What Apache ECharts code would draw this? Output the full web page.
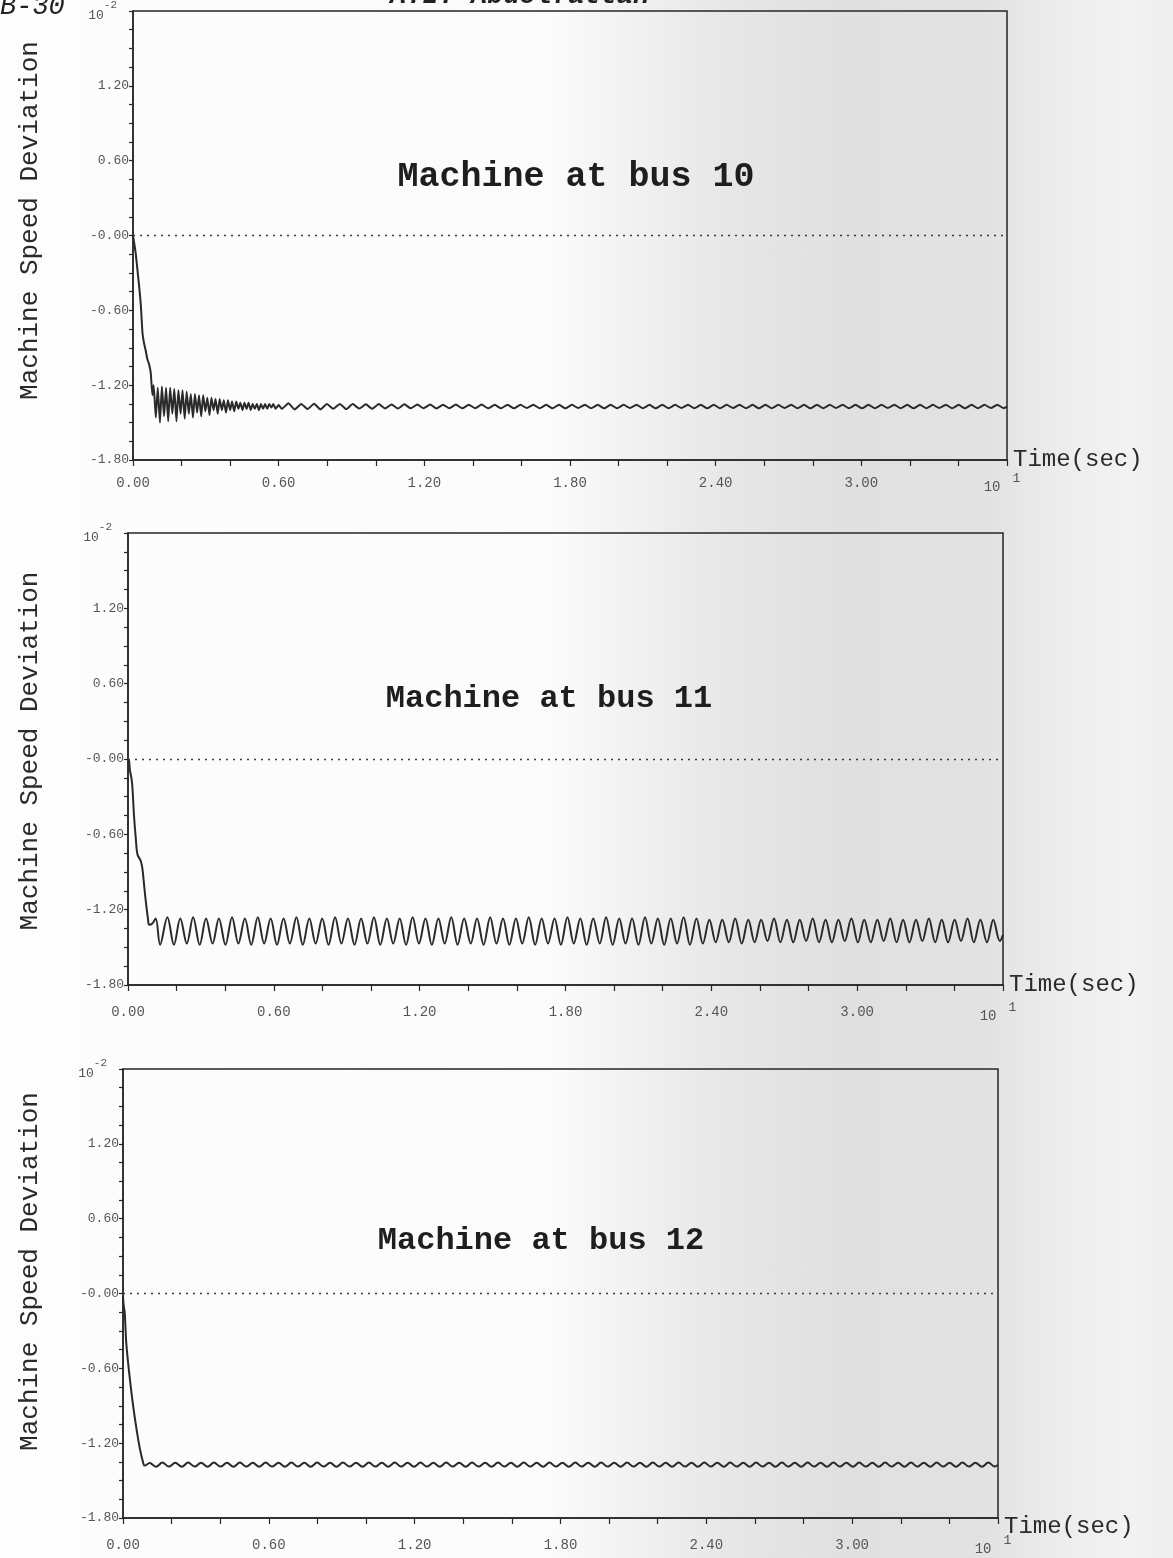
<!DOCTYPE html>
<html>
<head>
<meta charset="utf-8">
<script src="https://cdn.jsdelivr.net/npm/echarts@6/dist/echarts.min.js"></script>
<style>
html,body{margin:0;padding:0;}
body{width:1173px;height:1558px;overflow:hidden;
background:linear-gradient(90deg,#fdfdfd 0%,#fbfbfb 47%,#f1f1f1 54%,#e7e7e7 62%,#e0e0e0 72%,#e2e2e2 84%,#ececec 90%,#f2f2f2 96%,#eeeeee 100%);}
#c{width:1173px;height:1558px;}
</style>
</head>
<body>
<div id="c"></div>
<script>
// ---------- data ----------
const chartTitles = ['Machine at bus 10', 'Machine at bus 11', 'Machine at bus 12'];
const xTicks = [0, 0.6, 1.2, 1.8, 2.4, 3.0, 3.6];      // 3.6 is drawn as "10^1"
const yTicks = [-1.8, -1.2, -0.6, 0, 0.6, 1.2, 1.8];   // 1.8 is drawn as "10^-2"

// instants of the steady swing (peak, trough, peak, ...) in seconds
const swingTimes = [
 0.162,0.189,0.215,0.242,0.268,0.295,0.321,0.348,0.374,0.401,
 0.428,0.454,0.481,0.507,0.534,0.560,0.587,0.613,0.640,0.666,
 0.693,0.719,0.746,0.772,0.799,0.825,0.852,0.878,0.905,0.932,
 0.959,0.985,1.012,1.038,1.065,1.091,1.118,1.144,1.171,1.197,
 1.224,1.250,1.277,1.303,1.330,1.356,1.383,1.410,1.436,1.463,
 1.490,1.516,1.543,1.569,1.596,1.622,1.649,1.675,1.702,1.728,
 1.755,1.781,1.808,1.834,1.861,1.887,1.914,1.941,1.967,1.994,
 2.021,2.047,2.074,2.100,2.127,2.153,2.180,2.206,2.233,2.259,
 2.286,2.312,2.339,2.365,2.392,2.418,2.445,2.472,2.498,2.525,
 2.552,2.578,2.605,2.631,2.658,2.684,2.711,2.737,2.764,2.790,
 2.817,2.843,2.870,2.896,2.923,2.949,2.976,3.003,3.029,3.056,
 3.083,3.109,3.136,3.162,3.189,3.215,3.242,3.268,3.295,3.321,
 3.348,3.374,3.401,3.427,3.454,3.480,3.507,3.534,3.560,3.587,
 3.600];

// Machine at bus 10 : fall and fast decaying oscillation
const bus10Transient = [
 [0,0],[0.004,-0.05],[0.011,-0.14],[0.018,-0.27],[0.025,-0.40],[0.032,-0.55],[0.039,-0.78],
 [0.045,-0.86],[0.052,-0.92],[0.059,-0.99],[0.066,-1.03],[0.073,-1.10],[0.080,-1.28],
 [0.085,-1.20],[0.094,-1.46],[0.102,-1.22],[0.111,-1.50],[0.119,-1.21],[0.128,-1.45],
 [0.136,-1.22],[0.145,-1.49],[0.153,-1.22],[0.162,-1.43],[0.170,-1.23],[0.179,-1.49],
 [0.187,-1.24],[0.196,-1.43],[0.204,-1.24],[0.213,-1.47],[0.221,-1.25],[0.230,-1.43],
 [0.238,-1.27],[0.247,-1.46],[0.255,-1.27],[0.264,-1.42],[0.272,-1.28],[0.281,-1.45],
 [0.289,-1.28],[0.298,-1.41],[0.306,-1.30],[0.315,-1.44],[0.323,-1.30],[0.332,-1.40],
 [0.340,-1.31],[0.349,-1.43],[0.357,-1.31],[0.366,-1.40],[0.374,-1.32],[0.383,-1.42],
 [0.391,-1.32],[0.400,-1.40],[0.408,-1.33],[0.417,-1.41],[0.425,-1.33],[0.434,-1.39],
 [0.442,-1.34],[0.451,-1.40],[0.459,-1.34],[0.468,-1.39],[0.476,-1.34],[0.485,-1.40],
 [0.493,-1.35],[0.502,-1.39],[0.510,-1.35],[0.519,-1.40],[0.527,-1.35],[0.536,-1.39],
 [0.544,-1.35],[0.553,-1.39],[0.561,-1.35],[0.570,-1.38],[0.578,-1.35],[0.587,-1.39],
 [0.600,-1.36],[0.613,-1.39]];
// bus 10 steady swing, values at swingTimes from 0.640 s on
const bus10Swing = [
 -1.345,-1.395,-1.350,-1.392,-1.348,-1.394,-1.352,-1.390,-1.350,-1.392,
 -1.352,-1.388,-1.354,-1.390,-1.352,-1.387,-1.355,-1.388,-1.354,-1.386,
 -1.356,-1.386,-1.355,-1.387,-1.357,-1.385,-1.356,-1.386,-1.357,-1.385,
 -1.356,-1.386,-1.358,-1.385,-1.357,-1.386,-1.358,-1.384,-1.357,-1.385,
 -1.358,-1.385,-1.357,-1.386,-1.358,-1.384,-1.357,-1.385,-1.358,-1.386,
 -1.357,-1.385,-1.358,-1.384,-1.357,-1.385,-1.358,-1.386,-1.357,-1.385,
 -1.358,-1.384,-1.357,-1.385,-1.358,-1.386,-1.357,-1.385,-1.358,-1.384,
 -1.357,-1.385,-1.358,-1.386,-1.357,-1.385,-1.358,-1.384,-1.357,-1.385,
 -1.358,-1.386,-1.357,-1.385,-1.358,-1.384,-1.357,-1.385,-1.358,-1.386,
 -1.357,-1.385,-1.358,-1.384,-1.357,-1.385,-1.358,-1.386,-1.357,-1.385,
 -1.358,-1.384,-1.357,-1.385,-1.358,-1.386,-1.357,-1.385,-1.358,-1.384,
 -1.357,-1.385,-1.372];

// Machine at bus 11 : fall then sustained swing
const bus11Transient = [
 [0,0],[0.004,-0.01],[0.008,-0.09],[0.014,-0.15],[0.018,-0.22],[0.025,-0.46],[0.032,-0.63],
 [0.039,-0.76],[0.052,-0.81],[0.059,-0.87],[0.066,-1.00],[0.073,-1.13],[0.082,-1.27],
 [0.087,-1.32],[0.100,-1.31],[0.114,-1.27],[0.132,-1.48]];
const bus11Swing = [
 -1.26,-1.48,-1.27,-1.47,-1.26,-1.48,-1.27,-1.47,-1.27,-1.48,
 -1.26,-1.47,-1.27,-1.48,-1.26,-1.47,-1.27,-1.48,-1.27,-1.47,
 -1.26,-1.48,-1.27,-1.47,-1.27,-1.48,-1.26,-1.47,-1.27,-1.48,
 -1.27,-1.47,-1.26,-1.48,-1.27,-1.47,-1.27,-1.48,-1.26,-1.47,
 -1.27,-1.48,-1.27,-1.47,-1.26,-1.48,-1.27,-1.47,-1.27,-1.48,
 -1.26,-1.47,-1.27,-1.48,-1.27,-1.47,-1.26,-1.48,-1.27,-1.47,
 -1.27,-1.48,-1.26,-1.47,-1.27,-1.48,-1.27,-1.47,-1.26,-1.48,
 -1.27,-1.47,-1.27,-1.48,-1.26,-1.47,-1.27,-1.48,-1.27,-1.47,
 -1.26,-1.48,-1.27,-1.47,-1.28,-1.46,-1.28,-1.46,-1.27,-1.47,
 -1.28,-1.46,-1.28,-1.45,-1.27,-1.46,-1.28,-1.46,-1.28,-1.45,
 -1.27,-1.46,-1.28,-1.46,-1.28,-1.45,-1.27,-1.46,-1.28,-1.46,
 -1.28,-1.45,-1.27,-1.46,-1.28,-1.46,-1.28,-1.45,-1.27,-1.46,
 -1.28,-1.46,-1.28,-1.45,-1.27,-1.46,-1.28,-1.46,-1.28,-1.45,
 -1.40];

// Machine at bus 12 : fall then small ripple
const bus12Transient = [
 [0,-0.02],[0.003,-0.10],[0.007,-0.15],[0.014,-0.41],[0.028,-0.68],[0.041,-0.89],
 [0.055,-1.08],[0.069,-1.24],[0.082,-1.35],[0.089,-1.38],[0.110,-1.36],[0.136,-1.39]];
const bus12Swing = [
 -1.356,-1.388,-1.357,-1.389,-1.356,-1.388,-1.357,-1.389,-1.356,-1.388,
 -1.357,-1.389,-1.356,-1.388,-1.357,-1.389,-1.356,-1.388,-1.357,-1.389,
 -1.356,-1.388,-1.357,-1.389,-1.356,-1.388,-1.357,-1.389,-1.356,-1.388,
 -1.357,-1.389,-1.356,-1.388,-1.357,-1.389,-1.356,-1.388,-1.357,-1.389,
 -1.356,-1.388,-1.357,-1.389,-1.356,-1.388,-1.357,-1.389,-1.356,-1.388,
 -1.357,-1.389,-1.356,-1.388,-1.357,-1.389,-1.356,-1.388,-1.357,-1.389,
 -1.356,-1.388,-1.357,-1.389,-1.356,-1.388,-1.357,-1.389,-1.356,-1.388,
 -1.357,-1.389,-1.356,-1.388,-1.357,-1.389,-1.356,-1.388,-1.357,-1.389,
 -1.356,-1.388,-1.357,-1.389,-1.356,-1.388,-1.357,-1.389,-1.356,-1.388,
 -1.357,-1.389,-1.356,-1.388,-1.357,-1.389,-1.356,-1.388,-1.357,-1.389,
 -1.356,-1.388,-1.357,-1.389,-1.356,-1.388,-1.357,-1.389,-1.356,-1.388,
 -1.357,-1.389,-1.356,-1.388,-1.357,-1.389,-1.356,-1.388,-1.357,-1.389,
 -1.356,-1.388,-1.357,-1.389,-1.356,-1.388,-1.357,-1.389,-1.356,-1.388,
 -1.372];

// ---------- build ----------
function zip(times, vals){ const n=Math.min(times.length, vals.length); const o=[]; for(let i=0;i<n;i++) o.push([times[i], vals[i]]); return o; }
const lastT10 = bus10Transient[bus10Transient.length-1][0];
const series10 = bus10Transient.concat(zip(swingTimes.filter(t=>t>lastT10), bus10Swing));
const series11 = bus11Transient.concat(zip(swingTimes, bus11Swing));
const series12 = bus12Transient.concat(zip(swingTimes, bus12Swing));
const allSeries = [series10, series11, series12];

const grids = [
 {left:133, top:9,    width:874, height:451},
 {left:128, top:533,  width:875, height:452},
 {left:123, top:1069, width:875, height:449}
];
const titlePos = [[571,155],[544,678],[536,1220]];
const titleSize = [35, 32, 32];
const yNameGap = [90, 85, 80];
const yNamePad = [[0,0,0,30],[0,0,0,16],[0,0,0,44]];
const xLabelMargin = [23, 27, 27];
const xNamePadTop = [0, 0, 18];

const ink = '#262626';
const tickInk = '#555555';
const mono = '"Liberation Mono", "DejaVu Sans Mono", monospace';
const typew = '"Liberation Mono", "DejaVu Sans Mono", monospace';

const xMax = xTicks[xTicks.length-1], yMax = yTicks[yTicks.length-1];

const option = {
  animation:false,
  backgroundColor:'transparent',
  title: chartTitles.map((t,i)=>({
    text:t, left:titlePos[i][0], top:titlePos[i][1], textAlign:'center',
    textStyle:{fontFamily:typew, fontWeight:'bold', fontSize:titleSize[i], color:'#1e1e1e'}
  })),
  grid: grids.map(g=>Object.assign({show:true, borderColor:ink, borderWidth:1.5, backgroundColor:'transparent'}, g)),
  xAxis: grids.map((g,i)=>({
    type:'value', gridIndex:i, min:xTicks[0], max:xMax, interval:0.6,
    name:'{t|Time(sec)}', nameLocation:'end', nameGap:6, nameMoveOverlap:false,
    nameTextStyle:{fontFamily:typew, fontSize:24, color:'#2a2a2a', verticalAlign:'middle',
      rich:{t:{fontFamily:typew, fontSize:24, color:'#2a2a2a', padding:[xNamePadTop[i],0,0,0]}}},
    axisLine:{show:true, onZero:false, lineStyle:{color:ink, width:1.5}},
    axisTick:{show:true, inside:false, length:6, lineStyle:{color:ink, width:1.2}},
    minorTick:{show:true, splitNumber:3, length:6, lineStyle:{color:ink, width:1.2}},
    splitLine:{show:false}, minorSplitLine:{show:false},
    axisLabel:{
      margin:xLabelMargin[i], verticalAlign:'middle', fontFamily:mono, fontSize:14, color:tickInk,
      formatter:v=> Math.abs(v-xMax)<1e-6 ? '{b|10}{s|1}' : v.toFixed(2),
      rich:{
        b:{fontFamily:mono, fontSize:14, color:tickInk, lineHeight:22, verticalAlign:'bottom'},
        s:{fontFamily:mono, fontSize:13, color:tickInk, lineHeight:22, verticalAlign:'top', padding:[0,10,0,12]}
      }
    }
  })),
  yAxis: grids.map((g,i)=>({
    type:'value', gridIndex:i, min:yTicks[0], max:yMax, interval:0.6,
    name:'Machine Speed Deviation', nameLocation:'middle', nameRotate:90, nameGap:yNameGap[i],
    nameTextStyle:{fontFamily:typew, fontSize:26, color:'#2a2a2a', padding:yNamePad[i]},
    axisLine:{show:true, onZero:false, lineStyle:{color:ink, width:1.5}},
    axisTick:{show:true, inside:false, length:4, lineStyle:{color:ink, width:1.2}},
    minorTick:{show:true, splitNumber:4, length:4, lineStyle:{color:ink, width:1.2}},
    splitLine:{show:false}, minorSplitLine:{show:false},
    axisLabel:{
      margin:4, fontFamily:mono, fontSize:13, color:tickInk,
      formatter:v=> Math.abs(v-yMax)<1e-6 ? '{b|10}{s|-2}' : (Math.abs(v)<1e-9 ? '-0.00' : v.toFixed(2)),
      rich:{
        b:{fontFamily:mono, fontSize:13, color:tickInk, lineHeight:22, verticalAlign:'bottom'},
        s:{fontFamily:mono, fontSize:11, color:tickInk, lineHeight:22, verticalAlign:'top', padding:[0,12,0,0]}
      }
    }
  })),
  series: allSeries.map((d,i)=>({
    type:'line', xAxisIndex:i, yAxisIndex:i, data:d, showSymbol:false, symbol:'none',
    smooth: i===0 ? 0.15 : 0.35,
    lineStyle:{color:'#2a2a2a', width:2}, z:3,
    markLine:{silent:true, symbol:['none','none'], label:{show:false},
      lineStyle:{type:[2,5], color:'#3a3a3a', width:1.3},
      data:[{yAxis:0}]}
  })),
  graphic:[
    {type:'text', left:0, top:-7, style:{text:'B-30', font:'italic 27px "Liberation Mono", monospace', fill:'#222'}},
    {type:'text', left:390, top:-17, style:{text:'A.I. Abdelfattah', font:'italic bold 27px "Liberation Mono", monospace', fill:'#222'}}
  ]
};
const chart = echarts.init(document.getElementById('c'));
chart.setOption(option);
</script>
</body>
</html>
